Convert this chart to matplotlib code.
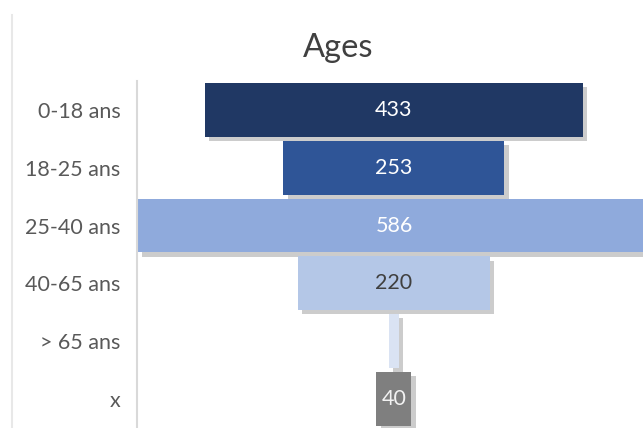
import matplotlib.pyplot as plt
import matplotlib.patheffects as pe
from matplotlib.lines import Line2D

# Funnel data (Ages)
categories = ["0-18 ans", "18-25 ans", "25-40 ans", "40-65 ans", "> 65 ans", "x"]
values = [433, 253, 586, 220, 12, 40]
labels = ["433", "253", "586", "220", "", "40"]
colors = ["#203864", "#2F5597", "#8FAADC", "#B4C7E7", "#DAE3F3", "#7F7F7F"]
label_colors = ["#FFFFFF", "#FFFFFF", "#FFFFFF", "#404040", "#404040", "#F2F2F2"]

plt.rcParams["font.family"] = ["Lato", "DejaVu Sans"]

fig = plt.figure(figsize=(6.43, 4.28), dpi=100)
ax = fig.add_axes([0.213, 0.0, 0.787, 0.811])

y = list(range(len(categories)))
lefts = [-v / 2 for v in values]
bars = ax.barh(y, values, left=lefts, height=0.93, color=colors)

shadow = [pe.SimplePatchShadow(offset=(3, -3), shadow_rgbFace="#808080", alpha=0.4),
          pe.Normal()]
for b in bars:
    b.set_path_effects(shadow)

for yi, lab, c in zip(y, labels, label_colors):
    if lab:
        ax.text(0, yi, lab, ha="center", va="center", color=c, fontsize=15.5)

ax.set_xlim(-294, 285)
ax.set_ylim(len(categories) - 0.5, -0.5)
ax.set_yticks(y)
ax.set_yticklabels(categories, fontsize=15.5, color="#595959")
ax.tick_params(axis="y", length=0, pad=12)
ax.set_xticks([])
for s in ["top", "right", "bottom"]:
    ax.spines[s].set_visible(False)
ax.spines["left"].set_color("#D9D9D9")
ax.spines["left"].set_linewidth(1.5)

fig.text(338 / 643, 1 - 48 / 428, "Ages", ha="center", va="center",
         fontsize=23.5, color="#404040")

# faint border line on the left of the picture
fig.add_artist(Line2D([12 / 643, 12 / 643], [0, 1 - 15 / 428],
                      color="#E8E8E8", linewidth=1.5))

fig.savefig("out.png", dpi=100)
